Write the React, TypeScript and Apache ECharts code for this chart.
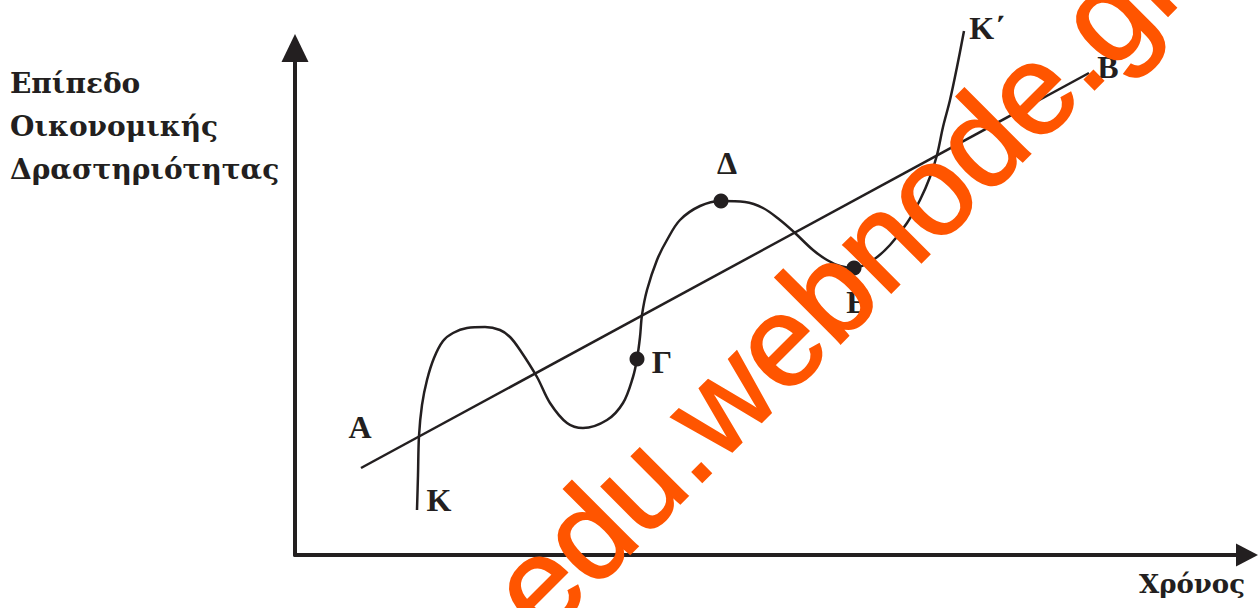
import { useEffect, useRef } from "react";
import * as echarts from "echarts";

// Curve K → K΄ (x = time, y = level of economic activity)
const curveX = [122, 123, 124, 127, 132, 139, 148, 158, 172, 190, 205, 215, 225, 242, 255, 272, 288, 312, 328, 338, 342, 345, 347, 352, 362, 372, 385, 405, 426, 450, 468, 485, 500, 518, 532, 545, 559, 578, 595, 612, 625, 635, 642, 648, 655, 662, 669];
const curveY = [45, 80, 119, 150, 175, 197, 214, 222, 227, 228, 225, 218, 205, 178, 152, 132, 127, 135, 152, 178, 196, 218, 240, 265, 295, 315, 335, 349, 354, 353, 347, 335, 322, 305, 295, 289, 287, 295, 310, 332, 355, 378, 400, 428, 455, 488, 524];

// Trend line A → B
const trendX = [66, 794];
const trendY = [87, 482];

// Marked points Γ, Δ, Ε
const pointNames = ["Γ", "Δ", "Ε"];
const pointX = [342, 426, 559];
const pointY = [196, 354, 287];

// Letter labels
const labelNames = ["Α", "Β", "Κ", "Κ΄", "Γ", "Δ", "Ε"];
const labelX = [65, 813, 144, 692, 367, 432, 562];
const labelY = [128, 488, 55, 527, 193, 392, 253];

const yTitle = ["Επίπεδο", "Οικονομικής", "Δραστηριότητας"];
const xTitle = "Χρόνος";
const watermark = "edu.webnode.gr";

const INK = "#231f20";
const SERIF = "'Liberation Serif', 'Times New Roman', serif";
const WIDE_SERIF = "'DejaVu Serif', 'Liberation Serif', serif";

export default function App() {
  const ref = useRef<HTMLDivElement>(null);

  useEffect(() => {
    if (!ref.current) return;
    const chart = echarts.init(ref.current, undefined, { renderer: "svg" });

    const axisCommon = {
      type: "value" as const,
      splitLine: { show: false },
      axisTick: { show: false },
      axisLabel: { show: false },
    };

    chart.setOption({
      animation: false,
      backgroundColor: "#ffffff",
      grid: { left: 295, top: 48, right: 12, bottom: 53, containLabel: false },
      xAxis: {
        ...axisCommon,
        min: 0,
        max: 952,
        name: xTitle,
        nameLocation: "end",
        nameGap: -2,
        nameTextStyle: {
          fontFamily: WIDE_SERIF,
          fontWeight: "bold",
          fontSize: 26,
          color: INK,
          align: "right",
          verticalAlign: "top",
          padding: [16, 0, 0, 0],
        },
        axisLine: {
          show: true,
          symbol: ["none", "triangle"],
          symbolSize: [23, 22],
          lineStyle: { color: INK, width: 4 },
        },
      },
      yAxis: {
        ...axisCommon,
        min: 0,
        max: 507,
        axisLine: {
          show: true,
          symbol: ["none", "triangle"],
          symbolSize: [27, 28],
          lineStyle: { color: INK, width: 4 },
        },
      },
      series: [
        {
          type: "line",
          name: "trend",
          data: trendX.map((x, i) => [x, trendY[i]]),
          showSymbol: false,
          clip: false,
          lineStyle: { color: INK, width: 2.5 },
          z: 2,
        },
        {
          type: "line",
          name: "curve",
          data: curveX.map((x, i) => [x, curveY[i]]),
          showSymbol: false,
          smooth: 0.35,
          clip: false,
          lineStyle: { color: INK, width: 2.5 },
          z: 2,
        },
        {
          type: "scatter",
          name: "points",
          data: pointX.map((x, i) => ({ name: pointNames[i], value: [x, pointY[i]] })),
          symbolSize: 15,
          itemStyle: { color: INK, opacity: 1 },
          clip: false,
          z: 3,
        },
        {
          type: "scatter",
          name: "labels",
          data: labelNames.map((n, i) => ({ name: n, value: [labelX[i], labelY[i]] })),
          symbolSize: 1,
          itemStyle: { color: "rgba(0,0,0,0)", opacity: 1 },
          clip: false,
          label: {
            show: true,
            position: "inside",
            formatter: (p: any) => p.name,
            fontFamily: SERIF,
            fontWeight: "bold",
            fontSize: 32,
            color: INK,
            opacity: 1,
          },
          z: 4,
        },
      ],
      graphic: [
        {
          type: "text",
          left: 10,
          top: 62,
          style: {
            text: yTitle.join("\n"),
            font: `bold 28px ${WIDE_SERIF}`,
            fill: INK,
            lineHeight: 43,
            textAlign: "left",
          },
          z: 5,
        },
        {
          type: "text",
          x: 836,
          y: 285,
          rotation: Math.PI / 4,
          style: {
            text: watermark,
            font: "128px 'Liberation Sans', Arial, sans-serif",
            fill: "#ff5500",
            stroke: "#ff5500",
            lineWidth: 2,
            textAlign: "center",
            textVerticalAlign: "middle",
            align: "center",
            verticalAlign: "middle",
          },
          z: 100,
        },
      ],
    });

    return () => chart.dispose();
  }, []);

  return <div ref={ref} style={{ width: 1259, height: 608, position: "absolute", left: 0, top: 0 }} />;
}
